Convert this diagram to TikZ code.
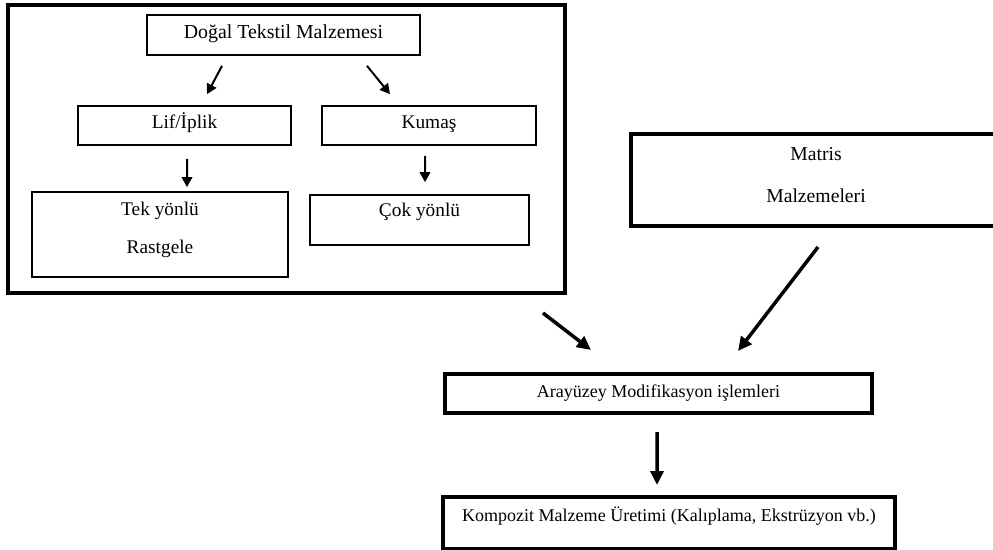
\documentclass[tikz,border=0pt]{standalone}
\usepackage{fontspec}
\setmainfont{Liberation Serif}
\usepackage{tikz}
\usetikzlibrary{arrows.meta}

\begin{document}
\begin{tikzpicture}[
  x=0.2mm, y=-0.2mm,
  box/.style={draw, line width=0.35mm, inner sep=0pt, align=center,
    font=\fontsize{11}{13}\selectfont},
  oneline/.style={box, text height=7.5pt, text depth=3.6pt},
  heavy/.style={box, line width=0.8mm},
  arr/.style={line width=0.4mm, -{Triangle[length=2mm, width=2.1mm]}},
  bigarr/.style={line width=0.7mm, -{Triangle[length=2.8mm, width=2.6mm]}},
]
\useasboundingbox (0,0) rectangle (993,549);
% nodes
\node[heavy, minimum width=111.4mm, minimum height=57.6mm] (grup) at (286.5,149) {};
\node[oneline, minimum width=54.6mm, minimum height=8mm,
  font=\fontsize{11.3}{13}\selectfont] (dogal) at (283.5,35) {Doğal Tekstil Malzemesi};
\node[oneline, minimum width=42.6mm, minimum height=7.8mm] (lif) at (184.5,125.5) {Lif/İplik};
\node[oneline, minimum width=42.8mm, minimum height=7.8mm] (kumas) at (429,125.5) {Kumaş};
\node[box, minimum width=51.2mm, minimum height=17mm, text height=29.1pt, text depth=7pt,
  font=\fontsize{11}{21.6}\selectfont] (tek) at (160,234.5) {Tek yönlü\\Rastgele};
\node[box, minimum width=43.8mm, minimum height=10mm,
  text height=8pt, text depth=12.2pt] (cok) at (419.5,220) {Çok yönlü};
\node[heavy, minimum width=74mm, minimum height=18.4mm, text height=31.3pt, text depth=5.9pt,
  font=\fontsize{11.2}{23.9}\selectfont] (matris) at (816,180) {Matris\\Malzemeleri};
\node[heavy, minimum width=85.4mm, minimum height=7.8mm,
  font=\fontsize{10.25}{12}\selectfont] (arayuzey) at (658.5,393.5) {Arayüzey Modifikasyon işlemleri};
\node[heavy, minimum width=90.4mm, minimum height=10.4mm,
  font=\fontsize{10.25}{12}\selectfont, text height=7.5pt, text depth=9.3pt]
  (kompozit) at (669,523) {Kompozit Malzeme Üretimi (Kalıplama, Ekstrüzyon vb.)};
% edges
\draw[arr] ([xshift=-12.3mm, yshift=-2mm]dogal.south) -- ([xshift=4.5mm, yshift=2.2mm]lif.north);
\draw[arr] ([xshift=16.7mm, yshift=-2mm]dogal.south) -- ([xshift=-7.8mm, yshift=2.2mm]kumas.north);
\draw[arr] ([xshift=0.5mm, yshift=-2.6mm]lif.south) -- ([xshift=5.4mm, yshift=0.8mm]tek.north);
\draw[arr] ([xshift=-0.8mm, yshift=-2mm]kumas.south) -- ([xshift=1.1mm, yshift=2.4mm]cok.north);
\draw[bigarr] ([xshift=-4.8mm, yshift=-3.6mm]grup.south east) -- ([xshift=-13.5mm, yshift=4.4mm]arayuzey.north);
\draw[bigarr] ([xshift=0.4mm, yshift=-3.8mm]matris.south) -- ([xshift=15.9mm, yshift=4.2mm]arayuzey.north);
\draw[bigarr] ([xshift=-0.3mm, yshift=-3.4mm]arayuzey.south) -- ([xshift=-2.4mm, yshift=2mm]kompozit.north);
\end{tikzpicture}
\end{document}
